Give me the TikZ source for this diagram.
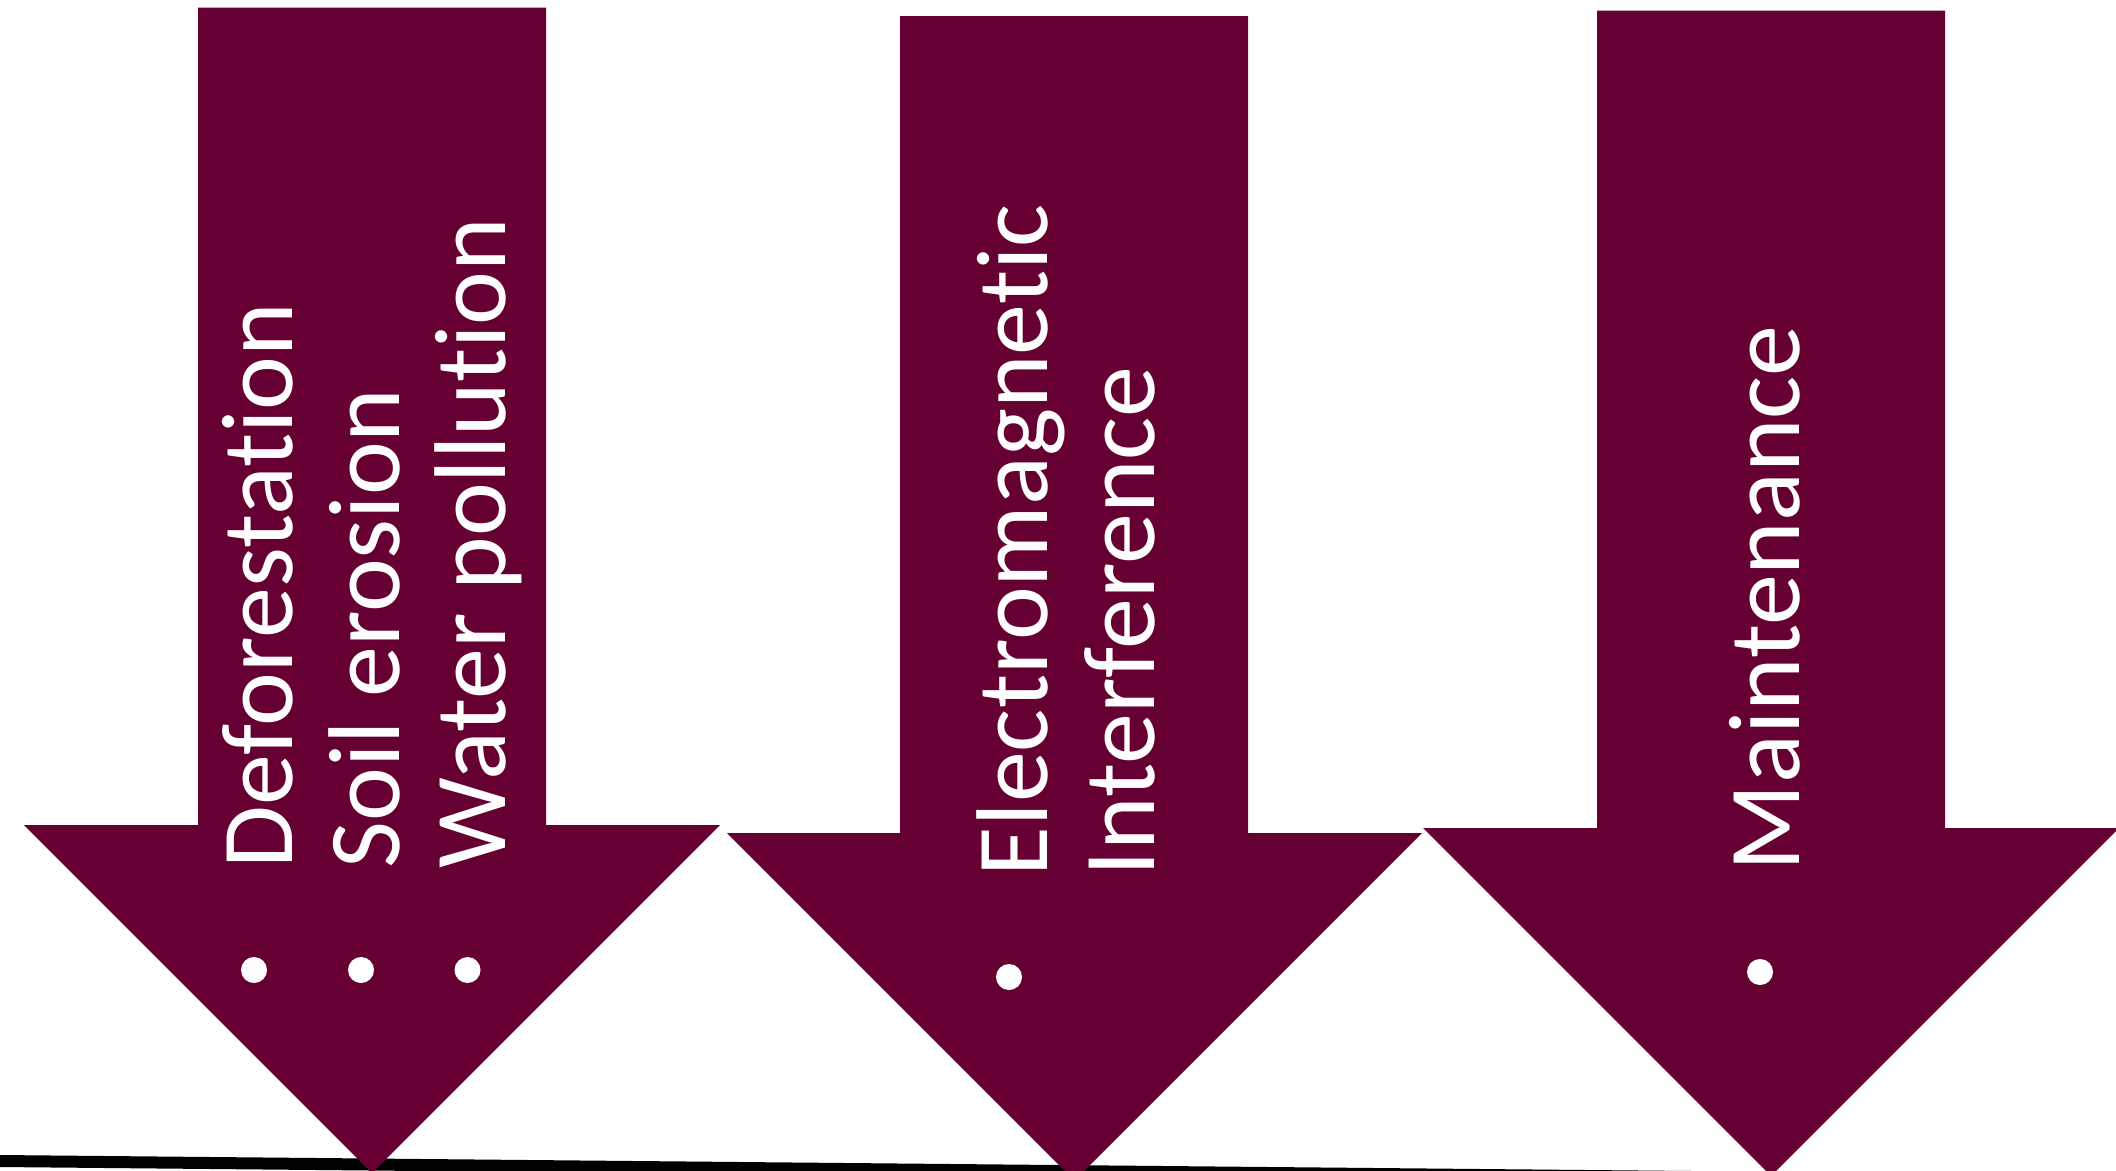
\documentclass[tikz,border=0pt]{standalone}
\usepackage{fontspec}
\setmainfont{Carlito}[Ligatures={NoCommon,NoContextual}]
\definecolor{arrowfill}{RGB}{102,0,51}
\begin{document}
\begin{tikzpicture}[x=1pt,y=-1pt,
  arrowshape/.style={fill=arrowfill, draw=none},
  vtext/.style={rotate=90, anchor=base west, inner sep=0pt, outer sep=0pt, text=white, font=\fontsize{102}{112}\selectfont},
  bulletdot/.style={circle, fill=white, draw=none, minimum size=26pt, inner sep=0pt}]
\useasboundingbox (0,0) rectangle (2116,1170);
\clip (0,0) rectangle (2116,1170);
% base line
\coordinate (lineA) at (0,1161);
\coordinate (lineB) at (2116,1181);
\draw[line width=12pt] (lineA) -- (lineB);
% arrows
\fill[arrowshape] (198,7.5) -- (546,7.5) -- (546,825) -- (720,825) -- (372,1173) -- (24,825) -- (198,825) -- cycle;
\fill[arrowshape] (900,16) -- (1248,16) -- (1248,833) -- (1422,833) -- (1074.5,1180.5) -- (727,833) -- (900,833) -- cycle;
\fill[arrowshape] (1597,10.7) -- (1945,10.7) -- (1945,828) -- (2119,828) -- (1771,1176) -- (1423,828) -- (1597,828) -- cycle;
% texts
\node[vtext] (t1) at (292,868) {Deforestation};
\node[vtext] (t2) at (399,868) {Soil erosion};
\node[vtext] (t3) at (505,868) {Water pollution};
\node[vtext] (t4) at (1047,876) {Electromagnetic};
\node[vtext] (t5) at (1154,876) {Interference};
\node[vtext] (t6) at (1799,871) {Maintenance};
% bullets
\node[bulletdot] (b1) at (254,970) {};
\node[bulletdot] (b2) at (361,970) {};
\node[bulletdot] (b3) at (467.5,970) {};
\node[bulletdot] (b4) at (1009,977) {};
\node[bulletdot] (b5) at (1760,972) {};
\end{tikzpicture}
\end{document}
